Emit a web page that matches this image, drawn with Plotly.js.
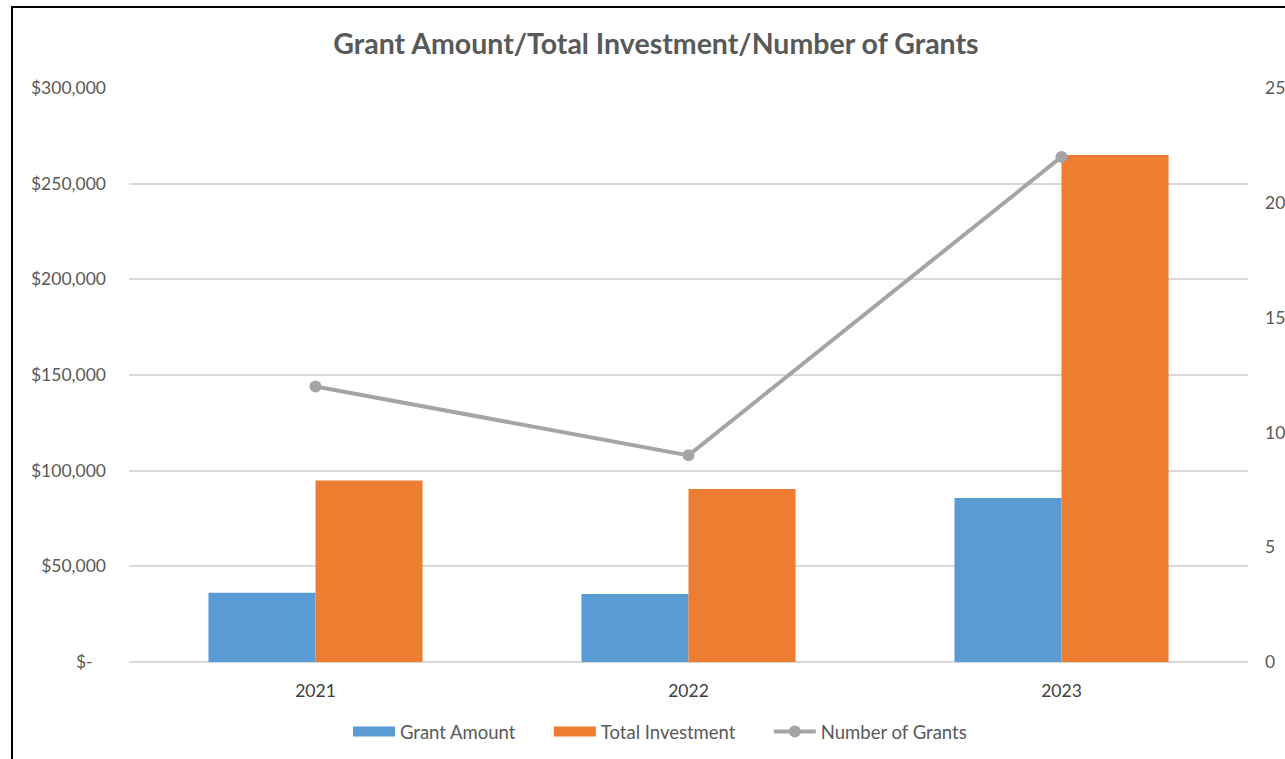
<!DOCTYPE html>
<html>
<head>
<meta charset="utf-8">
<script src="https://cdn.plot.ly/plotly-3.0.1.min.js"></script>
<style>
html,body{margin:0;padding:0;background:#fff;overflow:hidden;}
#chart{width:1285px;height:759px;}
#frame{position:absolute;left:11px;top:6px;width:1400px;height:900px;border:2px solid #000;pointer-events:none;box-sizing:border-box;}
</style>
</head>
<body>
<div id="chart"></div>
<div id="frame"></div>
<script>
var years = ["2021", "2022", "2023"];
var grantAmount = [36200, 35500, 85700];
var totalInvestment = [94800, 90400, 265000];
var numberOfGrants = [12, 9, 22];
var leftTickVals = [0, 50000, 100000, 150000, 200000, 250000, 300000];
var leftTickText = ["$-\u00a0\u00a0\u00a0", "$50,000", "$100,000", "$150,000", "$200,000", "$250,000", "$300,000"];
var rightTickVals = [0, 5, 10, 15, 20, 25];

var font = "Lato, 'Open Sans', sans-serif";
var blue = "#5b9bd5", orange = "#ed7d31", gray = "#a5a5a5";
var noValues = years.map(function(){ return null; });
var pad = "\u00a0\u00a0\u00a0\u00a0\u00a0\u00a0";

var traces = [
  {type:"bar", name:"Grant Amount", x:years, y:grantAmount, marker:{color:blue}, yaxis:"y", showlegend:false},
  {type:"bar", name:"Total Investment", x:years, y:totalInvestment, marker:{color:orange}, yaxis:"y", showlegend:false},
  {type:"scatter", mode:"lines+markers", name:"Number of Grants", x:years, y:numberOfGrants, yaxis:"y2",
   line:{color:gray, width:4}, marker:{color:gray, size:12}, showlegend:false},
  // legend-only entries (all-null values) to get Excel-style wide swatches
  {type:"scatter", mode:"lines", name:"Grant Amount" + pad, x:years, y:noValues, line:{color:blue, width:15}},
  {type:"scatter", mode:"lines", name:"Total Investment" + pad, x:years, y:noValues, line:{color:orange, width:15}},
  {type:"scatter", mode:"lines+markers", name:"Number of Grants", x:years, y:noValues, yaxis:"y2", line:{color:gray, width:4}, marker:{color:gray, size:12}}
];

var layout = {
  width:1285, height:759,
  margin:{l:129, r:37, t:88, b:97, autoexpand:false},
  paper_bgcolor:"#fff", plot_bgcolor:"#fff",
  font:{family:font, color:"#595959", size:17.5},
  title:{text:"<b>Grant Amount/Total Investment/Number of Grants</b>", x:0.5105, xanchor:"center", y:0.942, yanchor:"middle",
         font:{family:font, size:28.5, color:"#595959"}},
  barmode:"group", bargap:0.426, bargroupgap:0,
  showlegend:true,
  legend:{orientation:"h", x:0.4745, xanchor:"center", y:-0.122, yanchor:"middle", font:{size:18.5, color:"#595959"}, itemwidth:42, traceorder:"normal"},
  xaxis:{type:"category", showgrid:false, showline:false, ticks:"", tickfont:{size:17.5, color:"#404040"}, ticklabelstandoff:16},
  yaxis:{range:[0,300000], tickvals:leftTickVals, ticktext:leftTickText, showgrid:true, gridcolor:"#d9d9d9", gridwidth:2,
         zeroline:true, zerolinecolor:"#d9d9d9", zerolinewidth:2, showline:false, ticks:"", ticklabelstandoff:22,
         tickfont:{size:17.5, color:"#595959"}},
  yaxis2:{range:[0,25], tickvals:rightTickVals, overlaying:"y", side:"right", showgrid:false, zeroline:false, showline:false,
          ticks:"", ticklabelstandoff:16, tickfont:{size:17.5, color:"#595959"}}
};

Plotly.newPlot("chart", traces, layout, {displayModeBar:false, staticPlot:true});
</script>
</body>
</html>
